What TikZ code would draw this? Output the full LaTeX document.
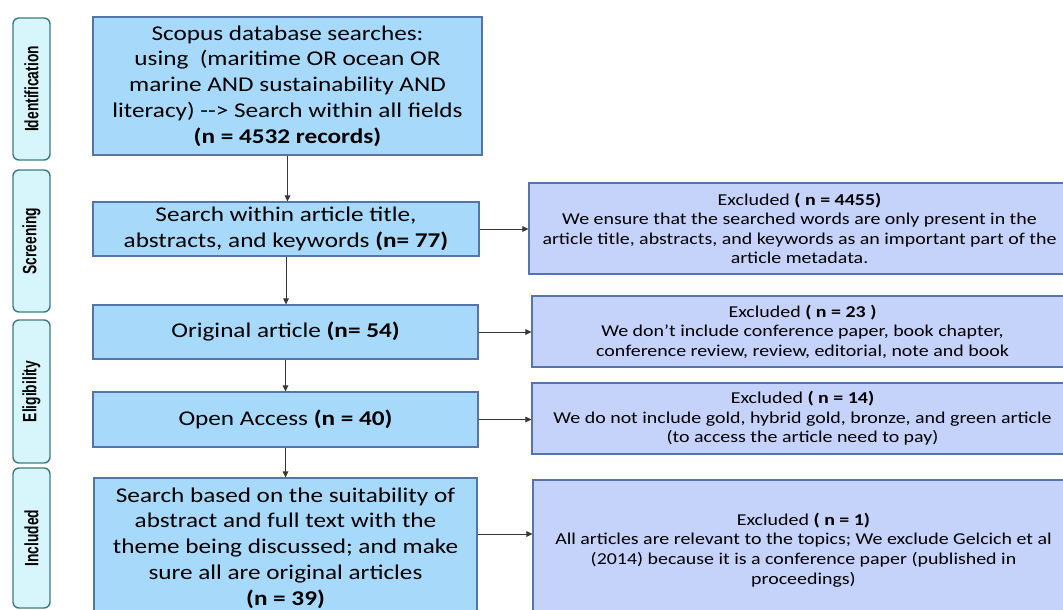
\documentclass[tikz,border=0pt]{standalone}
\usepackage{fontspec}
\setmainfont{Carlito}[FakeStretch=1.2]
\newfontfamily\phasefont{Liberation Sans}
\usepackage{xcolor}
\usepackage{tikz}
\usetikzlibrary{arrows.meta}

\definecolor{mainfill}{RGB}{167,217,251}
\definecolor{mainline}{RGB}{84,116,170}
\definecolor{exclfill}{RGB}{197,211,251}
\definecolor{phasefill}{RGB}{214,246,251}
\definecolor{phaseline}{RGB}{62,122,128}
\definecolor{arrline}{RGB}{55,55,55}

\newcommand{\phaselabel}[1]{\rotatebox{90}{\scalebox{1}[1.4]{#1}}}

\tikzset{
  mainbox/.style={draw=mainline, fill=mainfill, line width=1.1pt, align=center, inner sep=0pt,
    font=\fontsize{21}{25.8}\selectfont},
  exclbox/.style={draw=mainline, fill=exclfill, line width=1.1pt, align=center, inner sep=0pt,
    minimum width=541pt, font=\fontsize{16.6}{19.6}\selectfont},
  phase/.style={draw=phaseline, fill=phasefill, line width=1.4pt, rounded corners=6pt,
    minimum width=37pt, inner sep=0pt, font=\phasefont\bfseries\fontsize{13.8}{16}\selectfont},
  arr/.style={draw=arrline, line width=1pt, -{Triangle[length=6pt,width=5.5pt]}}
}

\begin{document}
\begin{tikzpicture}[x=1pt, y=-1pt]
    \useasboundingbox (0,0) rectangle (1063,610);
    \clip (0,0) rectangle (1063,610);

    % phases
    \node[phase, minimum height=142pt] (ident) at (31.5,89) {\phaselabel{Identification}};
    \node[phase, minimum height=142pt] (screen) at (31.5,241) {\phaselabel{Screening}};
    \node[phase, minimum height=143pt] (elig) at (31.5,391.5) {\phaselabel{Eligibility}};
    \node[phase, minimum height=140pt] (incl) at (31.5,538) {\phaselabel{Included}};

    % main steps
    \node[mainbox, minimum width=389pt, minimum height=138pt] (scopus) at (287.5,86)
        {Scopus database searches:\\using\ \ (maritime OR ocean OR\\marine AND sustainability AND\\literacy) -{}-{}> Search within all fields\\\textbf{(n = 4532 records)}};
    \node[mainbox, minimum width=386pt, minimum height=54pt] (title) at (286,229)
        {Search within article title,\\abstracts, and keywords \textbf{(n= 77)}};
    \node[mainbox, minimum width=385pt, minimum height=54pt] (orig) at (285.5,332)
        {Original article \textbf{(n= 54)}};
    \node[mainbox, minimum width=385pt, minimum height=55pt] (open) at (285.5,419.5)
        {Open Access \textbf{(n = 40)}};
    \node[mainbox, minimum width=383pt, minimum height=140pt] (suit) at (285.5,548)
        {Search based on the suitability of\\abstract and full text with the\\theme being discussed; and make\\sure all are original articles\\\textbf{(n = 39)}};

    % excluded
    \node[exclbox, minimum height=91pt] (exA) at (799.5,228.5)
        {Excluded \textbf{( n = 4455)}\\We ensure that the searched words are only present in the\\article title, abstracts, and keywords as an important part of the\\article metadata.};
    \node[exclbox, minimum height=71pt] (exB) at (802.5,331.5)
        {Excluded \textbf{( n = 23 )}\\We don’t include conference paper, book chapter,\\conference review, review, editorial, note and book};
    \node[exclbox, minimum height=71pt] (exC) at (802.5,418.5)
        {Excluded \textbf{( n = 14)}\\We do not include gold, hybrid gold, bronze, and green article\\(to access the article need to pay)};
    \node[exclbox, minimum height=140pt] (exD) at (803.5,550)
        {Excluded \textbf{( n = 1)}\\All articles are relevant to the topics; We exclude Gelcich et al\\(2014) because it is a conference paper (published in\\proceedings)};

    % connectors
    \draw[arr] (scopus.south) -- (scopus.south |- title.north);
    \draw[arr] (title.south) -- (title.south |- orig.north);
    \draw[arr] (orig.south) -- (orig.south |- open.north);
    \draw[arr] (open.south) -- (open.south |- suit.north);
    \draw[arr] (title.east) -- (title.east -| exA.west);
    \draw[arr] (orig.east) -- (orig.east -| exB.west);
    \draw[arr] (open.east) -- (open.east -| exC.west);
    \draw[arr] ([yshift=14pt]suit.east) -- ([yshift=14pt]suit.east -| exD.west);
\end{tikzpicture}
\end{document}
